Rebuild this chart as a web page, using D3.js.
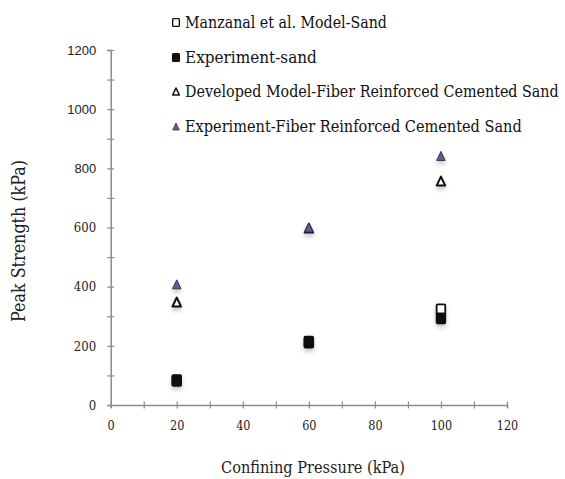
<!DOCTYPE html>
<html><head><meta charset="utf-8">
<script src="https://cdn.jsdelivr.net/npm/d3@7"></script>
<style>body{margin:0;background:#fff}svg{display:block}</style>
</head><body>
<svg id="c" width="565" height="479"></svg>
<script>
const pressures = [20, 60, 100];
const manzanalSand = [84, 214, 323];
const experimentSand = [82, 211, 293];
const developedFRCS = [348, 598, 757];
const experimentFRCS = [408, 600, 842];
const seriesNames = ["Manzanal et al. Model-Sand","Experiment-sand","Developed Model-Fiber Reinforced Cemented Sand","Experiment-Fiber Reinforced Cemented Sand"];
const xTicks = [0,10,20,30,40,50,60,70,80,90,100,110,120];
const yTicks = [0,100,200,300,400,500,600,700,800,900,1000,1100,1200];
const xTitle = "Confining Pressure (kPa)";
const yTitle = "Peak Strength (kPa)";

const svg = d3.select("#c");
const serif = "'DejaVu Serif Condensed', 'DejaVu Serif', serif";
const sans = "'Liberation Sans', Arial, sans-serif";
const axisCol = "#8c8c8c";

const defs = svg.append("defs");
const f = defs.append("filter").attr("id","sh").attr("x","-80%").attr("y","-80%").attr("width","260%").attr("height","280%");
f.append("feDropShadow").attr("dx",0).attr("dy",3).attr("stdDeviation",2.2).attr("flood-color","#000").attr("flood-opacity",0.22);

const x = d3.scaleLinear().domain([0,120]).range([110.7,507]);
const y = d3.scaleLinear().domain([0,1200]).range([405,50]);

function fit(sel, target){
  let fs = parseFloat(sel.attr("font-size"));
  const w = sel.node().getComputedTextLength();
  sel.attr("font-size", (fs*target/w).toFixed(2));
}

// x axis
const gx = svg.append("g").attr("transform",`translate(0,${y(0)})`)
  .call(d3.axisBottom(x).tickValues(xTicks).tickSize(3).tickPadding(13)
    .tickFormat(d => d % 20 === 0 ? d : ""));
gx.select(".domain").attr("stroke",axisCol).attr("stroke-width",1.5);
gx.selectAll(".tick line").attr("stroke",axisCol).attr("stroke-width",1.2).attr("y1",-3.5).attr("y2",3.5);
gx.selectAll(".tick text").attr("font-family",serif).attr("font-size",12.5).attr("fill","#222");

// y axis
const gy = svg.append("g").attr("transform",`translate(${x(0)},0)`)
  .call(d3.axisLeft(y).tickValues(yTicks).tickSize(3.5).tickPadding(11)
    .tickFormat(d => d % 200 === 0 ? d : ""));
gy.select(".domain").attr("stroke",axisCol).attr("stroke-width",1.5);
gy.selectAll(".tick line").attr("stroke",axisCol).attr("stroke-width",1.2).attr("x1",3.5).attr("x2",-3.5);
gy.selectAll(".tick text").attr("fill","#222")
  .attr("font-family", d => d >= 800 ? sans : serif)
  .attr("font-size", d => d >= 800 ? 13 : 13);

// titles
const xt = svg.append("text").attr("x",313).attr("y",473).attr("text-anchor","middle")
  .attr("font-family",serif).attr("font-size",17).attr("fill","#222").text(xTitle);
fit(xt,184);
const yt = svg.append("text").attr("transform","translate(25,241) rotate(-90)").attr("text-anchor","middle")
  .attr("font-family",serif).attr("font-size",17).attr("fill","#222").text(yTitle);
fit(yt,162);

// marker shapes
const styles = [
  {type:"square", fill:"#fff", stroke:"#111"},
  {type:"square", fill:"#111", stroke:"#111"},
  {type:"tri", fill:"#fff", stroke:"#111"},
  {type:"tri", fill:"#6b5a92", stroke:"#3b2f5c"}
];
const seriesData = [manzanalSand, experimentSand, developedFRCS, experimentFRCS];

function drawMarker(g, st, cx, cy, s){
  if(st.type === "square"){
    g.append("rect").attr("x",cx - 4.3*s).attr("y",cy - 5*s).attr("width",8.6*s).attr("height",10*s)
      .attr("fill",st.fill).attr("stroke",st.stroke).attr("stroke-width",1.8*s).attr("rx",0.8);
  } else {
    const h = 9*s, w = 8.5*s;
    g.append("path").attr("d",`M${cx},${cy-h/2}L${cx+w/2},${cy+h/2}L${cx-w/2},${cy+h/2}Z`)
      .attr("fill",st.fill).attr("stroke",st.stroke).attr("stroke-width",(st.fill==="#fff"?2:1)*s)
      .attr("stroke-linejoin","round");
  }
}

const pts = svg.append("g").attr("filter","url(#sh)");
seriesData.forEach((vals,i) => {
  vals.forEach((v,j) => drawMarker(pts, styles[i], x(pressures[j]), y(v), 1));
});

// legend
const legY = [22.5, 57.5, 91.5, 126.5];
const leg = svg.append("g");
seriesNames.forEach((name,i) => {
  drawMarker(leg, styles[i], 176, legY[i], 0.78);
  leg.append("text").attr("x",185).attr("y",legY[i]+5.5)
    .attr("font-family",serif).attr("font-size",16).attr("fill","#111").text(name);
});
const widths = [202, 132, 374, 337];
leg.selectAll("text").each(function(d,i){ fit(d3.select(this), widths[i]); });
</script>
</body></html>
